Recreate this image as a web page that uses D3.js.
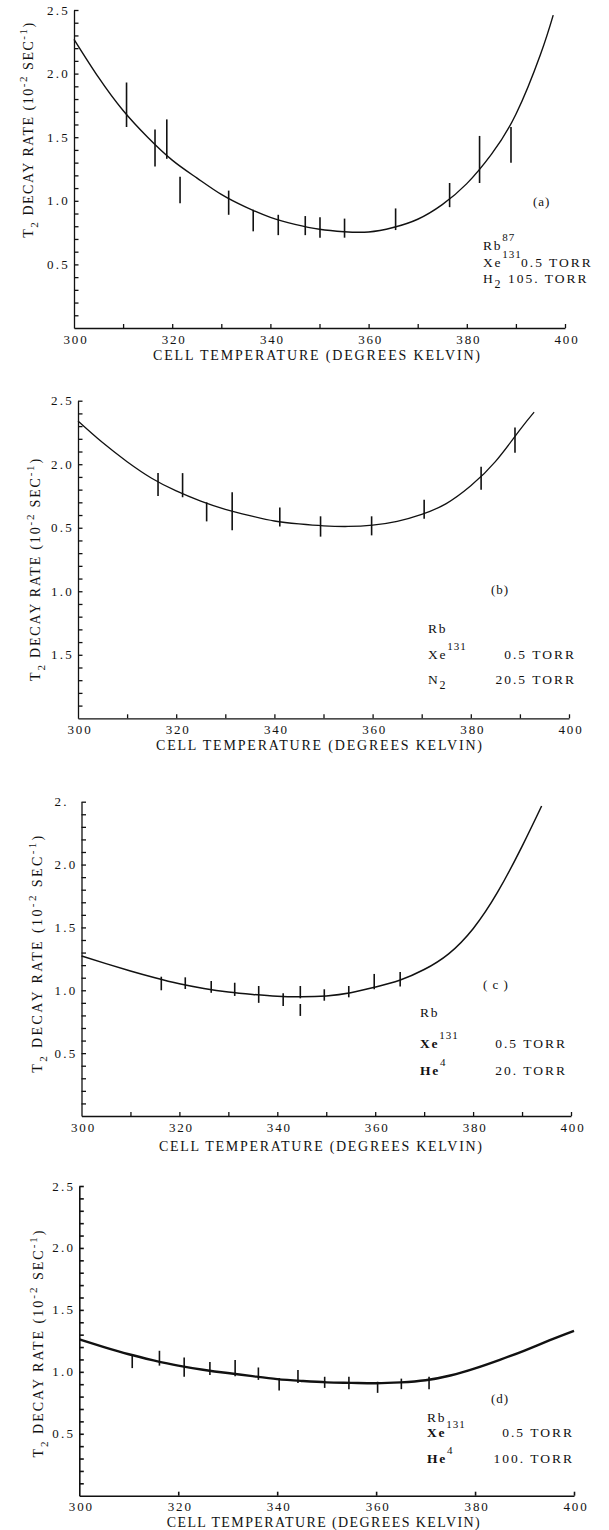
<!DOCTYPE html>
<html><head><meta charset="utf-8">
<script src="https://cdn.jsdelivr.net/npm/d3@7"></script>
<style>body{margin:0;background:#fff}svg{display:block}text{font-family:"Liberation Serif","DejaVu Serif",serif;fill:#111}</style>
</head><body>
<svg id="chart" width="609" height="1530"></svg>
<script>
// ---------- shared axis labels ----------
const xTickValues = [300, 320, 340, 360, 380, 400];
const xTickLabels = ["300", "320", "340", "360", "380", "400"];
const yTickValues = [2.5, 2.0, 1.5, 1.0, 0.5];
const yLabelsA = ["2.5", "2.0", "1.5", "1.0", "0.5"];
const yLabelsB = ["2.5", "2.0", "0.5", "1.0", "1.5"];
const yLabelsC = ["2.", "2.0", "1.5", "1.0", "0.5"];
const yLabelsD = ["2.5", "2.0", "1.5", "1.0", "0.5"];
const xTitle = "CELL TEMPERATURE (DEGREES KELVIN)";

// ---------- panel (a): Rb87, Xe131 0.5 torr, H2 105 torr ----------
const aCurveT = [300, 305, 310, 315, 320, 325, 330, 335, 340, 345, 350, 355, 360, 365, 370, 375, 380, 385, 390, 395, 397.6];
const aCurveV = [2.27, 1.97, 1.71, 1.50, 1.32, 1.18, 1.05, 0.95, 0.87, 0.815, 0.776, 0.757, 0.755, 0.79, 0.855, 0.97, 1.135, 1.365, 1.68, 2.15, 2.46];
const aBarT  = [310.7, 316.5, 318.9, 321.6, 331.5, 336.5, 341.6, 347.1, 350.1, 355.1, 365.5, 376.5, 382.6, 389.0];
const aBarLo = [1.58, 1.27, 1.33, 0.98, 0.89, 0.76, 0.73, 0.73, 0.71, 0.71, 0.77, 0.95, 1.14, 1.30];
const aBarHi = [1.93, 1.56, 1.64, 1.19, 1.08, 0.93, 0.89, 0.88, 0.87, 0.86, 0.94, 1.14, 1.51, 1.58];

// ---------- panel (b): Rb, Xe131 0.5 torr, N2 20.5 torr ----------
const bCurveT = [300, 305, 310, 315, 320, 325, 330, 335, 340, 345, 350, 355, 360, 365, 370, 375, 380, 385, 390, 392.9];
const bCurveV = [2.34, 2.17, 2.02, 1.89, 1.79, 1.71, 1.645, 1.595, 1.553, 1.53, 1.515, 1.51, 1.52, 1.55, 1.605, 1.69, 1.83, 2.02, 2.27, 2.41];
const bBarT  = [316.3, 321.3, 326.2, 331.4, 341.1, 349.4, 359.8, 370.5, 382.1, 389.0];
const bBarLo = [1.75, 1.74, 1.55, 1.48, 1.51, 1.43, 1.44, 1.57, 1.80, 2.09];
const bBarHi = [1.93, 1.93, 1.70, 1.78, 1.66, 1.59, 1.59, 1.72, 1.98, 2.29];

// ---------- panel (c): Rb, Xe131 0.5 torr, He4 20 torr ----------
const cCurveT = [300, 305, 310, 315, 320, 325, 330, 335, 340, 345, 350, 355, 360, 365, 370, 375, 380, 385, 390, 394.0];
const cCurveV = [1.273, 1.212, 1.154, 1.10, 1.052, 1.015, 0.987, 0.967, 0.952, 0.948, 0.955, 0.98, 1.025, 1.08, 1.165, 1.29, 1.49, 1.78, 2.145, 2.466];
const cBarT  = [316.3, 321.2, 326.5, 331.3, 336.2, 341.2, 344.7, 344.7, 349.6, 354.6, 359.8, 365.1];
const cBarLo = [1.00, 1.01, 0.98, 0.955, 0.90, 0.875, 0.936, 0.796, 0.917, 0.944, 1.008, 1.03];
const cBarHi = [1.108, 1.103, 1.074, 1.06, 1.034, 0.976, 1.034, 0.891, 1.008, 1.034, 1.13, 1.145];

// ---------- panel (d): Rb, Xe131 0.5 torr, He4 100 torr ----------
const dCurveT = [300, 305, 310, 315, 320, 325, 330, 335, 340, 345, 350, 355, 360, 365, 370, 375, 380, 385, 390, 395, 400];
const dCurveV = [1.262, 1.20, 1.142, 1.093, 1.05, 1.017, 0.99, 0.965, 0.941, 0.926, 0.915, 0.911, 0.908, 0.915, 0.932, 0.97, 1.028, 1.097, 1.172, 1.253, 1.33];
const dBarT  = [310.7, 316.2, 321.2, 326.4, 331.5, 336.2, 340.4, 344.2, 349.6, 354.5, 360.3, 365.1, 370.7];
const dBarLo = [1.03, 1.05, 0.96, 0.975, 0.965, 0.935, 0.85, 0.91, 0.87, 0.86, 0.83, 0.86, 0.86];
const dBarHi = [1.135, 1.17, 1.115, 1.08, 1.095, 1.035, 0.95, 1.015, 0.96, 0.96, 0.92, 0.945, 0.96];

// ---------- legend texts ----------
const panelTags = ["(a)", "(b)", "( c )", "(d)"];

// ---------- layout (positions only) ----------
const panels = [
  { key: "a", left: 74, right: 565, top: 10, bottom: 328, curveT: aCurveT, curveV: aCurveV,
    barT: aBarT, barLo: aBarLo, barHi: aBarHi, yLabels: yLabelsA, xMinor: 10, curveW: 1.4, axisW: 1.3,
    yt: { x: 32.5, cy: 129.5, len: 215 }, xt: { x: 153, y: 360, len: 327 },
    tag: { x: 533, y: 206 },
    legend: [
      { x: 483, y: 250, base: "Rb", sup: "87" },
      { x: 483, y: 267, base: "Xe", sup: "131", val: "0.5 TORR", vx: 521, anchor: "start" },
      { x: 483, y: 283, base: "H", sub: "2", val: "105. TORR", vx: 508, anchor: "start" }
    ] },
  { key: "b", left: 78, right: 569, top: 400.7, bottom: 718.3, curveT: bCurveT, curveV: bCurveV,
    barT: bBarT, barLo: bBarLo, barHi: bBarHi, yLabels: yLabelsB, xMinor: 10, curveW: 1.3, axisW: 1.3,
    yt: { x: 39.5, cy: 569, len: 222 }, xt: { x: 156, y: 750, len: 326 },
    tag: { x: 491, y: 594 },
    legend: [
      { x: 428, y: 633, base: "Rb" },
      { x: 428, y: 659, base: "Xe", sup: "131", val: "0.5 TORR", vx: 576, anchor: "end" },
      { x: 428, y: 684, base: "N", sub: "2", val: "20.5 TORR", vx: 576, anchor: "end" }
    ] },
  { key: "c", left: 81.5, right: 571, top: 801.7, bottom: 1116, curveT: cCurveT, curveV: cCurveV,
    barT: cBarT, barLo: cBarLo, barHi: cBarHi, yLabels: yLabelsC, xMinor: 10, curveW: 1.5, axisW: 1.3,
    yt: { x: 41.5, cy: 953, len: 237 }, xt: { x: 159, y: 1150.5, len: 323 },
    tag: { x: 483, y: 989 },
    legend: [
      { x: 420, y: 1017, base: "Rb" },
      { x: 420, y: 1048, base: "Xe", sup: "131", val: "0.5 TORR", vx: 567, anchor: "end", bold: true },
      { x: 420, y: 1075, base: "He", sup: "4", val: "20.  TORR", vx: 567, anchor: "end", bold: true }
    ] },
  { key: "d", left: 79.3, right: 574, top: 1186, bottom: 1495.7, curveT: dCurveT, curveV: dCurveV,
    barT: dBarT, barLo: dBarLo, barHi: dBarHi, yLabels: yLabelsD, xMinor: 20, curveW: 2.4, axisW: 1.6,
    yt: { x: 42.5, cy: 1343, len: 227 }, xt: { x: 166.7, y: 1526.5, len: 313 },
    tag: { x: 491, y: 1403 },
    legend: [
      { x: 427, y: 1421.7, base: "Rb" },
      { x: 427, y: 1437, base: "Xe", sup: "131", val: "0.5 TORR", vx: 574, anchor: "end", bold: true },
      { x: 427, y: 1463, base: "He", sup: "4", val: "100.  TORR", vx: 574, anchor: "end", bold: true }
    ] }
];

const svg = d3.select("#chart");

function yTitle(g, p) {
  const t = g.append("text")
    .attr("transform", `translate(${p.yt.x},${p.yt.cy}) rotate(-90)`)
    .attr("text-anchor", "middle")
    .style("font-size", "14px");
  const parts = [["T", 0, 14], ["2", 5, 11], [" DECAY RATE (10", -5, 14], ["-2", -6, 11], [" SEC", 6, 14], ["-1", -6, 11], [")", 6, 14]];
  let n = 0;
  parts.forEach(([s, dy, fs]) => { t.append("tspan").attr("dy", dy).style("font-size", fs + "px").text(s); n += s.length; });
  const nat = t.node().getComputedTextLength();
  t.style("letter-spacing", ((p.yt.len - nat) / (n - 1)) + "px");
}

panels.forEach((p, i) => {
  const g = svg.append("g");
  const x = d3.scaleLinear().domain([300, 400]).range([p.left, p.right]);
  const y = d3.scaleLinear().domain([0, 2.5]).range([p.bottom, p.top]);

  // axes with inward ticks
  const yAx = d3.axisLeft(y).tickValues(d3.range(1, 26).map(k => k / 10)).tickSizeInner(-4.5).tickSizeOuter(0).tickFormat("");
  const xAx = d3.axisBottom(x).tickValues(d3.range(300 + p.xMinor, 401, p.xMinor)).tickSizeInner(-4).tickSizeOuter(0).tickFormat("");
  const gy = g.append("g").attr("transform", `translate(${p.left},0)`).call(yAx);
  const gx = g.append("g").attr("transform", `translate(0,${p.bottom})`).call(xAx);
  [gy, gx].forEach(a => {
    a.selectAll("path,line").attr("stroke", "#111").attr("stroke-width", p.axisW);
  });

  // tick labels
  g.selectAll(".xl").data(xTickValues).join("text")
    .attr("x", v => x(v) + 2).attr("y", p.bottom + 15.5)
    .attr("text-anchor", "middle").style("font-size", "13px").style("letter-spacing", "1.8px")
    .text((v, k) => xTickLabels[k]);
  g.selectAll(".yl").data(yTickValues).join("text")
    .attr("x", p.left - 27).attr("y", v => y(v) + 4.5)
    .attr("text-anchor", "start").style("font-size", "13px").style("letter-spacing", "2.2px")
    .text((v, k) => p.yLabels[k]);

  // titles
  g.append("text").attr("x", p.xt.x).attr("y", p.xt.y)
    .attr("textLength", p.xt.len).attr("lengthAdjust", "spacing")
    .style("font-size", "14px").text(xTitle);
  yTitle(g, p);

  // fitted curve
  const line = d3.line().x(d => x(d[0])).y(d => y(d[1])).curve(d3.curveNatural);
  g.append("path").datum(p.curveT.map((t, k) => [t, p.curveV[k]]))
    .attr("d", line).attr("fill", "none").attr("stroke", "#111").attr("stroke-width", p.curveW);

  // error bars
  g.selectAll(".bar").data(p.barT.map((t, k) => ({ t, lo: p.barLo[k], hi: p.barHi[k] }))).join("line")
    .attr("x1", d => x(d.t)).attr("x2", d => x(d.t))
    .attr("y1", d => y(d.lo)).attr("y2", d => y(d.hi))
    .attr("stroke", "#111").attr("stroke-width", 1.6);

  // panel tag
  g.append("text").attr("x", p.tag.x).attr("y", p.tag.y).style("font-size", "13px").style("letter-spacing", "1px").text(panelTags[i]);

  // legend
  p.legend.forEach(L => {
    const t = g.append("text").attr("x", L.x).attr("y", L.y).style("font-size", "13.5px").style("letter-spacing", "1.8px");
    if (L.bold) t.style("font-weight", "bold");
    t.append("tspan").text(L.base);
    if (L.sup) t.append("tspan").attr("dy", -9).style("font-size", "11px").style("font-weight", "normal").style("letter-spacing", "1px").text(L.sup);
    if (L.sub) t.append("tspan").attr("dy", 5).style("font-size", "12px").text(L.sub);
    if (L.val) {
      g.append("text").attr("x", L.vx).attr("y", L.y).attr("text-anchor", L.anchor)
        .style("font-size", "13.5px").style("letter-spacing", "2px").text(L.val);
    }
  });
});
</script>
</body></html>
